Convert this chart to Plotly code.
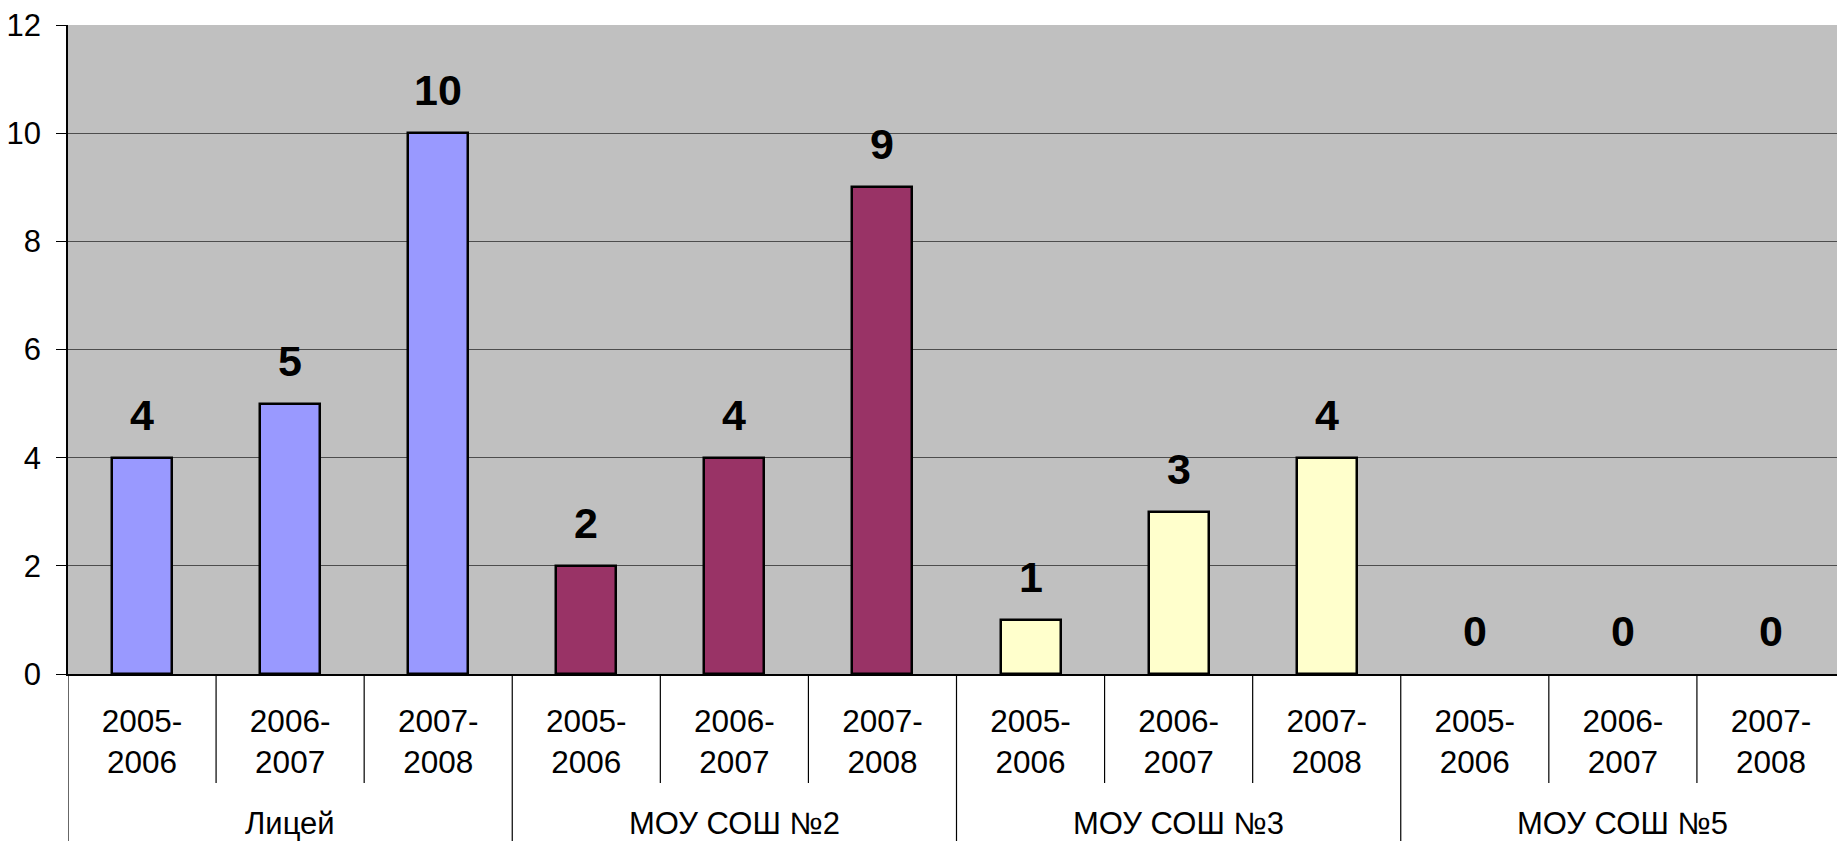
import plotly.graph_objects as go

# Data
schools = ["Лицей", "МОУ СОШ №2", "МОУ СОШ №3", "МОУ СОШ №5"]
years = ["2005-2006", "2006-2007", "2007-2008"]
licey = [4, 5, 10]
sosh2 = [2, 4, 9]
sosh3 = [1, 3, 4]
sosh5 = [0, 0, 0]
school_colors = ["#9999FF", "#993366", "#FFFFCC", "#C0C0C0"]
y_ticks = [0, 2, 4, 6, 8, 10, 12]

values = licey + sosh2 + sosh3 + sosh5
n_years = len(years)
xs = list(range(len(values)))
colors = [school_colors[i // n_years] for i in xs]
outline = [2.5 if v > 0 else 0 for v in values]
tick_text = [years[i % n_years].replace("-", "-<br>") for i in xs]

H_PLOT = 649  # plot height in px, used to convert px offsets to paper units

fig = go.Figure(
    go.Bar(
        x=xs,
        y=values,
        width=0.405,
        marker=dict(color=colors, line=dict(color="black", width=outline)),
        hoverinfo="skip",
    )
)

# bold value labels above bars
for x, v in zip(xs, values):
    fig.add_annotation(
        x=x, y=v, text=f"<b>{v}</b>", showarrow=False,
        yanchor="middle", yshift=43,
        font=dict(family="Liberation Sans, Arial", size=43, color="black"),
    )

# school labels under the years
for g, name in enumerate(schools):
    fig.add_annotation(
        x=g * n_years + (n_years - 1) / 2, y=-149 / H_PLOT, xref="x", yref="paper",
        text=name, showarrow=False, yanchor="middle",
        font=dict(family="Liberation Sans, Arial", size=31, color="black"),
    )

# category divider lines below the axis
for i in range(len(values) + 1):
    b = i - 0.5
    depth = 170 if i % n_years == 0 else 109
    fig.add_shape(
        type="line", xref="x", yref="paper", x0=b, x1=b, y0=0, y1=-depth / H_PLOT,
        line=dict(color="black", width=1.2),
    )

fig.update_layout(
    width=1837,
    height=833,
    margin=dict(l=60, r=0, t=17, b=167),
    plot_bgcolor="#C0C0C0",
    paper_bgcolor="white",
    showlegend=False,
    bargap=0,
    font=dict(family="Liberation Sans, Arial", size=31, color="black"),
)
fig.update_xaxes(
    range=[-0.5, len(values) - 0.5],
    tickvals=xs,
    ticktext=tick_text,
    ticks="",
    showgrid=False,
    showline=True,
    linecolor="black",
    linewidth=1.5,
    ticklabelstandoff=18,
    tickfont=dict(size=31.5),
    automargin=False,
)
fig.update_yaxes(
    range=[0, 12],
    tickvals=y_ticks,
    showgrid=True,
    gridcolor="#4d4d4d",
    gridwidth=1,
    zeroline=False,
    showline=True,
    linecolor="black",
    linewidth=1.5,
    ticks="outside",
    ticklen=10,
    tickcolor="black",
    ticklabelstandoff=9,
    ticklabeloverflow="allow",
    tickfont=dict(size=31),
    automargin=False,
)

fig.write_html("out.html")
